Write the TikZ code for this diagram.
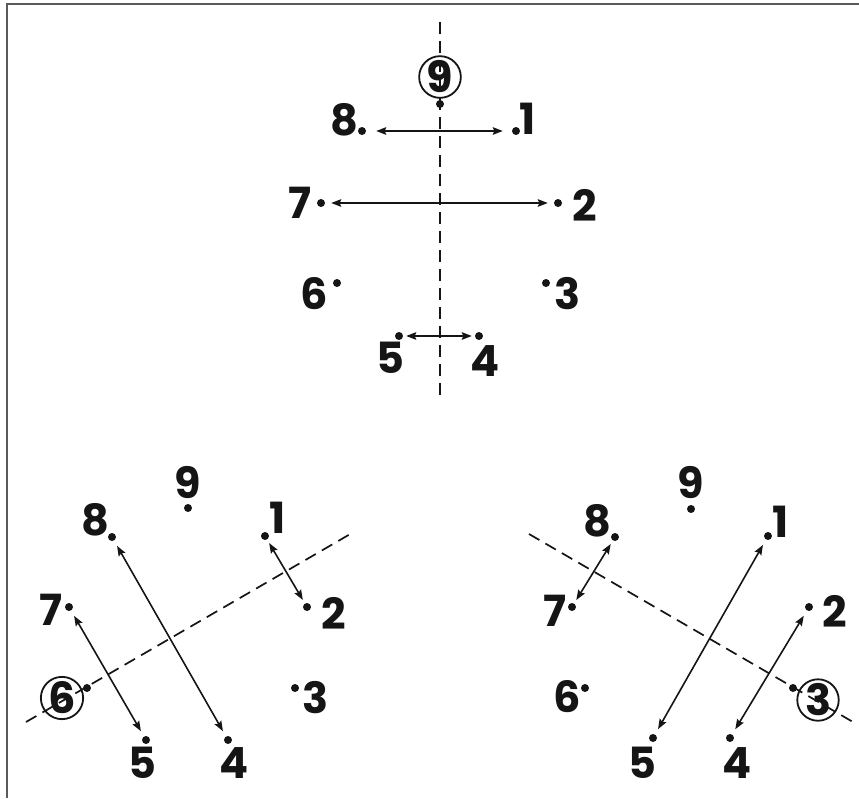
\documentclass[tikz,border=0pt]{standalone}
\usepackage{fontspec}
\newfontfamily\numfont{Poppins}[UprightFont=* Bold]
\usetikzlibrary{arrows.meta}
\definecolor{ink}{HTML}{151515}
\definecolor{framegray}{HTML}{5A5A5A}
\tikzset{
  dot/.style={circle,fill=ink,inner sep=0pt,minimum size=8pt},
  num/.style={font=\fontsize{43}{43}\selectfont\numfont,text=ink,inner sep=0pt},
  ring/.style={circle,draw=ink,line width=1.8pt,minimum size=39pt},
  arr/.style={{Stealth[length=10pt,width=7.5pt,inset=1.5pt]}-{Stealth[length=10pt,width=7.5pt,inset=1.5pt]},draw=ink,line width=1.6pt,shorten <=6pt,shorten >=6pt},
  axis/.style={draw=ink,line width=1.7pt,dash pattern=on 12pt off 7pt},
  frameline/.style={draw=framegray,line width=2.2pt}
}
\begin{document}
\begin{tikzpicture}[x=1pt,y=-1pt]
\useasboundingbox (0,0) rectangle (859,798);
\fill[white] (0,0) rectangle (859,798);
% frame (top and left edges)
\coordinate (fa) at (859,4);
\coordinate (fb) at (7,4);
\coordinate (fc) at (7,798);
\draw[frameline] (fa) -- (fb) -- (fc);

% ================= top figure =================
\coordinate (ta1) at (440,22);
\coordinate (ta2) at (440,398);
\draw[axis] (ta1) -- (ta2);
\node[dot] (t9) at (440,104) {};
\node[dot] (t8) at (362,131) {};
\node[dot] (t1) at (516,131) {};
\node[dot] (t7) at (321,203) {};
\node[dot] (t2) at (558,203) {};
\node[dot] (t6) at (337,283) {};
\node[dot] (t3) at (546,283) {};
\node[dot] (t5) at (399,336) {};
\node[dot] (t4) at (479,336) {};
\node[num,ring] (lt9) at (440,77) {9};
\node[num] (lt8) at (344,120) {8};
\node[num] (lt1) at (528,119) {1};
\node[num] (lt7) at (300,203) {7};
\node[num] (lt2) at (585,205) {2};
\node[num] (lt6) at (314,294) {6};
\node[num] (lt3) at (567,294) {3};
\node[num] (lt5) at (390,358) {5};
\node[num] (lt4) at (485,361) {4};
\draw[arr,shorten <=10pt,shorten >=9pt] (t8) -- (t1);
\draw[arr] (t7) -- (t2);
\draw[arr,shorten <=3pt,shorten >=3pt] (t5) -- (t4);

% ================= bottom-left figure =================
\coordinate (la1) at (26,722);
\coordinate (la2) at (352,533);
\draw[axis] (la1) -- (la2);
\node[dot] (l9) at (188,508) {};
\node[dot] (l8) at (112,537) {};
\node[dot] (l1) at (265,536) {};
\node[dot] (l7) at (69,607) {};
\node[dot] (l2) at (307,607) {};
\node[dot] (l6) at (87,688) {};
\node[dot] (l3) at (295,688) {};
\node[dot] (l5) at (146,740) {};
\node[dot] (l4) at (228,740) {};
\node[num] (ll9) at (188,482) {9};
\node[num] (ll8) at (95,520) {8};
\node[num] (ll1) at (278,518) {1};
\node[num] (ll7) at (51,610) {7};
\node[num] (ll2) at (334,613) {2};
\node[num,ring] (ll6) at (62,698) {6};
\node[num] (ll3) at (316,698) {3};
\node[num] (ll5) at (142,763) {5};
\node[num] (ll4) at (234,763) {4};
\draw[arr] (l8) -- (l4);
\draw[arr] (l7) -- (l5);
\draw[arr,shorten <=4pt,shorten >=4pt] (l1) -- (l2);

% ================= bottom-right figure =================
\coordinate (ra1) at (529,534);
\coordinate (ra2) at (853,722);
\draw[axis] (ra1) -- (ra2);
\node[dot] (r9) at (691,509) {};
\node[dot] (r8) at (615,537) {};
\node[dot] (r1) at (768,536) {};
\node[dot] (r7) at (572,607) {};
\node[dot] (r2) at (809,607) {};
\node[dot] (r6) at (585,688) {};
\node[dot] (r3) at (793,688) {};
\node[dot] (r5) at (653,738) {};
\node[dot] (r4) at (730,738) {};
\node[num] (lr9) at (691,482) {9};
\node[num] (lr8) at (597,521) {8};
\node[num] (lr1) at (781,522) {1};
\node[num] (lr7) at (555,611) {7};
\node[num] (lr2) at (835,611) {2};
\node[num] (lr6) at (567,697) {6};
\node[num,ring] (lr3) at (818,700) {3};
\node[num] (lr5) at (642,763) {5};
\node[num] (lr4) at (737,763) {4};
\draw[arr] (r1) -- (r5);
\draw[arr] (r2) -- (r4);
\draw[arr,shorten <=4pt,shorten >=4pt] (r8) -- (r7);
\end{tikzpicture}
\end{document}
